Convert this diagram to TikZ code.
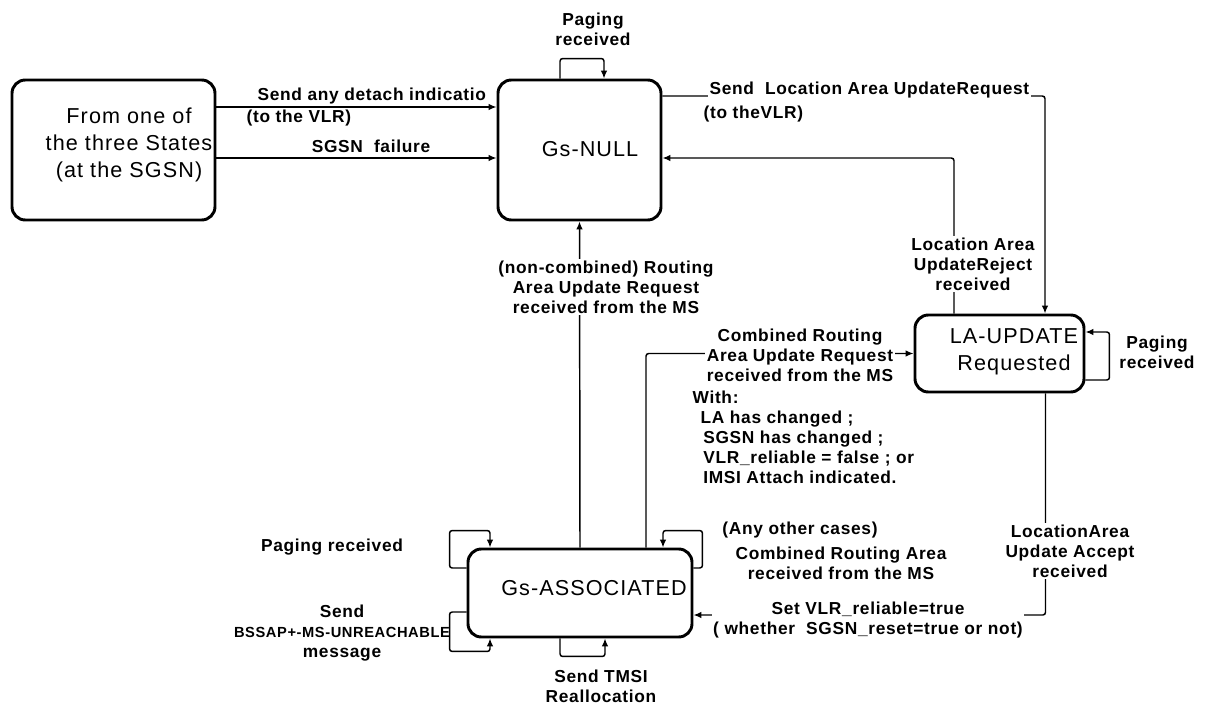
\documentclass[tikz,border=0pt]{standalone}
\usepackage{fontspec}
\setmainfont{Liberation Sans}
\newfontfamily\boxfont[LetterSpace=5]{Liberation Sans}
\newfontfamily\labelfont[LetterSpace=4]{Liberation Sans}
\usetikzlibrary{arrows.meta, calc, positioning}
\tikzset{%
  state_block/.style={%
    rectangle,%
    rounded corners=10pt,%
    draw=black,%
    line width=2.2pt,%
    inner sep=0pt,%
  },
  state_text/.style={%
    font={\boxfont\fontsize{16.2}{20.5}\selectfont},%
    align=center,%
  },
  smooth_path/.style={%
    color=black,%
    rounded corners=2pt,%
    line width=1.1pt,%
  },
  annotate/.style={%
    font={\labelfont\bfseries\fontsize{13}{15}\selectfont},%
    align=center,%
    inner sep=1pt,%
  },
  cut_annotate/.style={%
    annotate,%
    fill=white,%
  },
  arrow/.style={-{Latex[length=6pt, width=5pt]}},
}
\begin{document}
\begin{tikzpicture}[x=0.75pt, y=-0.75pt]
  \useasboundingbox (0,0) rectangle (1206,706);

  \node [state_block, minimum width=152.25pt, minimum height=105pt] (FromState) at (113.5,150) {};
  \node [state_text] (FromText) at (129,145) {From one of\\the three States\\(at the SGSN)};
  \node [state_block, minimum width=122.25pt, minimum height=105pt] (GsNull) at (579.5,150) {};
  \node [state_text] (GsNullText) at (590,149) {Gs-NULL};
  \node [state_block, minimum width=126.75pt, minimum height=57.75pt] (LaUpdate) at (999.5,353.5) {};
  \node [state_text] (LaUpdateText) at (1014,352) {LA-UPDATE\\Requested};
  \node [state_block, minimum width=168pt, minimum height=66pt] (GsAssoc) at (580,593) {};
  \node [state_text] (GsAssocText) at (594,588) {Gs-ASSOCIATED};

  \draw [arrow, smooth_path]
    ($(FromState.east)+(0,-43)$)
    --
    ($(GsNull.west)+(0,-43)$);
  \node [annotate, anchor=base west] (DetachLabel) at (256,101) {Send any detach indicatio};
  \node [annotate, anchor=base west] (ToVlrLabel) at (245,123) {(to the VLR)};
  \draw [arrow, smooth_path]
    ($(FromState.east)+(0,8)$)
    --
    ($(GsNull.west)+(0,8)$);
  \node [annotate, anchor=base] (FailureLabel) at (371,153) {SGSN\ \ failure};

  \draw [arrow, smooth_path]
    ($(GsNull.north)+(-19.5,0)$)
    --
    ++(0,-20)
    -|
    ($(GsNull.north)+(24.5,0)$);
  \node [annotate] (NullPagingLabel) at (593,29) {Paging\\received};

  \draw [arrow, smooth_path]
    ($(GsNull.east)+(0,-54)$)
    -|
    ($(LaUpdate.north)+(45.5,0)$);
  \node [cut_annotate, anchor=base west] (LaRequestLabel) at (708,95) {Send\ \ Location Area UpdateRequest};
  \node [annotate, anchor=base west] (ToTheVlrLabel) at (702,119) {(to theVLR)};

  \draw [arrow, smooth_path]
    ($(LaUpdate.north)+(-45.5,0)$)
    |-
    ($(GsNull.east)+(0,8)$);
  \node [cut_annotate] (RejectLabel) at (973,264) {Location Area\\UpdateReject\\received};

  \draw [arrow, smooth_path]
    ($(LaUpdate.east)+(0,26.5)$)
    --
    ++(24,0)
    |-
    ($(LaUpdate.east)+(0,-21.5)$);
  \node [annotate] (LaPagingLabel) at (1157,352) {Paging\\received};

  \draw [arrow, smooth_path]
    (GsAssoc.north)
    --
    (GsNull.south);
  \node [cut_annotate] (NonCombinedLabel) at (606,287) {(non-combined) Routing\\Area Update Request\\received from the MS};

  \draw [arrow, smooth_path]
    ($(GsAssoc.north)+(66,0)$)
    |-
    (LaUpdate.west);
  \node [cut_annotate] (CombinedLabel) at (800,355) {Combined Routing\\Area Update Request\\received from the MS};
  \node [annotate, anchor=north west, align=left] (WithLabel) at (691,389) {With:\\\hspace{6pt}LA has changed ;\\\hspace{8pt}SGSN has changed ;\\\hspace{8pt}VLR\_reliable = false ; or\\\hspace{8pt}IMSI Attach indicated.};

  \draw [arrow, smooth_path]
    ($(GsAssoc.west)+(0,-25)$)
    --
    ++(-17,0)
    |-
    ($(GsAssoc.north)+(-90,-17)$)
    --
    ($(GsAssoc.north)+(-90,0)$);
  \node [annotate] (AssocPagingLabel) at (332,547) {Paging received};

  \draw [arrow, smooth_path]
    ($(GsAssoc.west)+(0,19)$)
    --
    ++(-17,0)
    |-
    ($(GsAssoc.south)+(-90,13)$)
    --
    ($(GsAssoc.south)+(-90,0)$);
  \node [annotate] (UnreachableLabel) at (342,633) {Send\\{\fontsize{11}{15}\selectfont BSSAP+-MS-UNREACHABLE}\\message};

  \draw [arrow, smooth_path]
    ($(GsAssoc.south)+(-20,0)$)
    --
    ++(0,18)
    -|
    ($(GsAssoc.south)+(25,0)$);
  \node [annotate] (TmsiLabel) at (601,686) {Send TMSI\\Reallocation};

  \draw [arrow, smooth_path]
    ($(GsAssoc.east)+(0,-25)$)
    --
    ++(9,0)
    |-
    ($(GsAssoc.north)+(83,-17)$)
    --
    ($(GsAssoc.north)+(83,0)$);
  \node [annotate] (OtherCasesLabel) at (800,530) {(Any other cases)};
  \node [annotate] (CombinedAreaLabel) at (841,563) {Combined Routing Area\\received from the MS};

  \draw [arrow, smooth_path]
    ($(LaUpdate.south)+(46,0)$)
    |-
    ($(GsAssoc.east)+(0,22)$);
  \node [cut_annotate] (AcceptLabel) at (1070,551) {LocationArea\\Update Accept\\received};
  \node [cut_annotate] (SetVlrLabel) at (868,620) {Set VLR\_reliable=true\\( whether\ \ SGSN\_reset=true or not)};
\end{tikzpicture}
\end{document}
